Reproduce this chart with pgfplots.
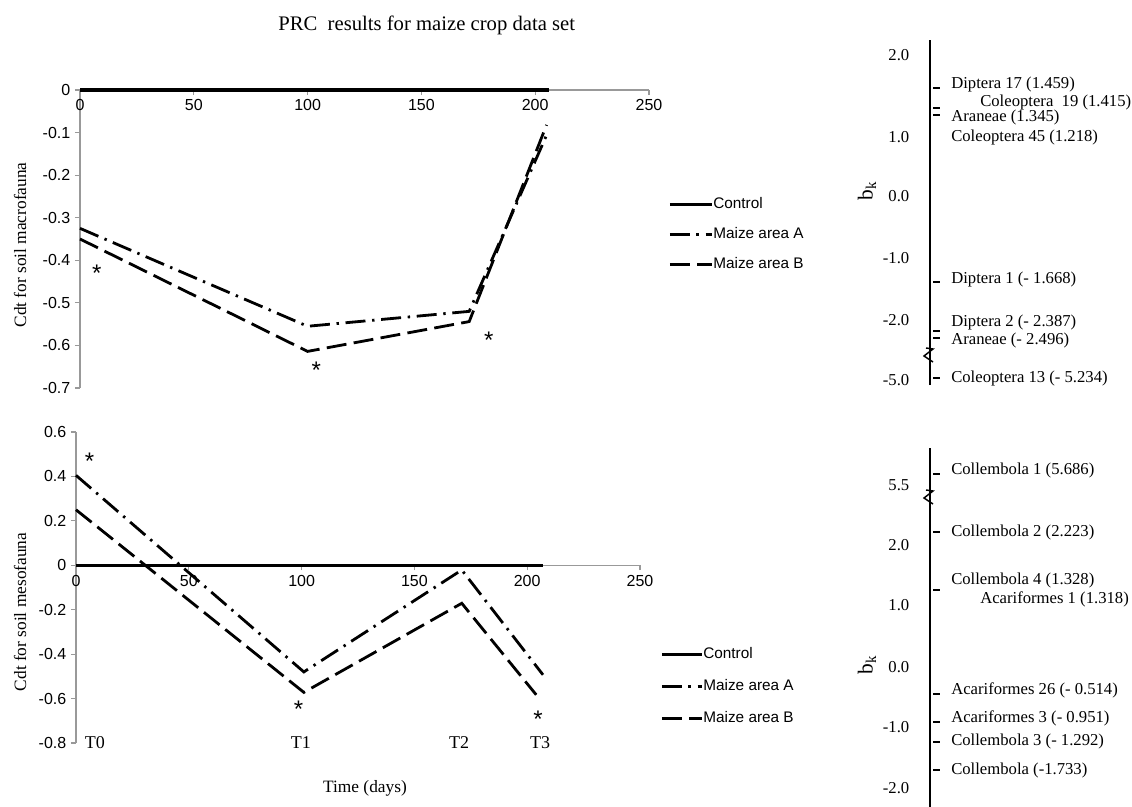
\documentclass[border=0pt]{standalone}
\usepackage{pgfplots}
\pgfplotsset{compat=1.18}
\usepackage{fontspec}
\setmainfont{Liberation Serif}
\setsansfont{Liberation Sans}

\pgfplotsset{
 leftpanel/.style={
   scale only axis, clip=false,
   xmin=0, xmax=250, xtick={0,50,...,250},
   axis x line=middle, axis y line=left,
   axis line style={-, draw=black!40, line width=0.8pt},
   every tick/.style={draw=black!40, line width=0.8pt},
   major tick length=3.75pt, tick align=outside,
   hide obscured x ticks=false, hide obscured y ticks=false,
   tick label style={font=\sffamily\fontsize{12}{12}\selectfont, text=black},
   /pgf/number format/assume math mode=true,
   yticklabel style={/pgf/number format/fixed, /pgf/number format/precision=1},
   legend cell align=left,
   legend image code/.code={\draw[##1] (0pt,0pt) -- (31.5pt,0pt);},
 },
 rightpanel/.style={
   scale only axis, clip=false,
   xmin=0, xmax=202, width=151.5pt,
   axis x line=none, axis y line=left,
   axis line style={-, black, line width=1.1pt},
   major tick length=0pt,
   yticklabel style={font=\fontsize{12.5}{12.5}\selectfont, xshift=-12pt},
   nodes near coords style={anchor=west, inner sep=0pt, font=\fontsize{12.5}{12.5}\selectfont, text=black},
 },
 ctrl/.style={black, line width=2.3pt},
 areaA/.style={black, line width=2.1pt, dash pattern=on 15pt off 5pt on 1.8pt off 5pt},
 areaB/.style={black, line width=2.1pt, dash pattern=on 15pt off 5.5pt},
 bkmark/.style={only marks, mark=-, mark size=2.6pt, mark options={line width=2.2pt, black}},
 bktext/.style={only marks, mark=none, nodes near coords, point meta=explicit symbolic},
}

\begin{document}
\begin{tikzpicture}
\path[use as bounding box] (0,0) rectangle (849pt,-605.25pt);

% Title
\node at (320pt,-18.75pt) {\fontsize{15.5}{15.5}\selectfont PRC\ \ results for maize crop data set};

% ---------- Top left: macrofauna ----------
\begin{axis}[leftpanel,
  at={(60pt,-67.5pt)}, anchor=north west,
  width=426.75pt, height=223.5pt,
  ymin=-0.7, ymax=0, ytick={-0.7,-0.6,...,0},
  legend style={draw=none, fill=none, inner sep=0pt,
    at={(1.0334,0.641)}, anchor=north west,
    font=\sffamily\fontsize{11.5}{11.5}\selectfont,
    nodes={inner sep=0pt, text height=8.5pt, text depth=2.5pt},
    row sep=11.5pt,
    /tikz/every even column/.append style={column sep=3pt}},
]
\addplot[ctrl] coordinates {(0,0) (206,0)};
\addplot[areaA] coordinates {(0,-0.325) (100,-0.555) (171,-0.520) (205,-0.106)};
\addplot[areaB] coordinates {(0,-0.350) (100,-0.614) (171,-0.544) (205,-0.082)};
\legend{Control, Maize area A, Maize area B}
\node[font=\sffamily\fontsize{18}{18}\selectfont, yshift=-3pt] at (axis cs:7.4,-0.42) {*};
\node[font=\sffamily\fontsize{18}{18}\selectfont, yshift=-3pt] at (axis cs:103.8,-0.649) {*};
\node[font=\sffamily\fontsize{18}{18}\selectfont, yshift=-3pt] at (axis cs:179.6,-0.579) {*};
\end{axis}

% ---------- Bottom left: mesofauna ----------
\begin{axis}[leftpanel,
  at={(57pt,-324pt)}, anchor=north west,
  width=423pt, height=233.25pt,
  ymin=-0.8, ymax=0.6, ytick={-0.8,-0.6,...,0.6},
  legend style={draw=none, fill=none, inner sep=0pt,
    at={(1.0355,0.309)}, anchor=north west,
    font=\sffamily\fontsize{11.5}{11.5}\selectfont,
    nodes={inner sep=0pt, text height=8.5pt, text depth=2.5pt},
    row sep=13pt,
    /tikz/every even column/.append style={column sep=2.5pt}},
  legend image code/.code={\draw[#1] (0pt,0pt) -- (30pt,0pt);},
]
\addplot[ctrl] coordinates {(0,0) (207,0)};
\addplot[areaA] coordinates {(0,0.405) (101,-0.480) (171,-0.021) (207,-0.493)};
\addplot[areaB] coordinates {(0,0.250) (101,-0.572) (171,-0.171) (204,-0.583)};
\legend{Control, Maize area A, Maize area B}
\node[font=\sffamily\fontsize{18}{18}\selectfont, yshift=-3pt] at (axis cs:6.0,0.488) {*};
\node[font=\sffamily\fontsize{18}{18}\selectfont, yshift=-3pt] at (axis cs:98.7,-0.628) {*};
\node[font=\sffamily\fontsize{18}{18}\selectfont, yshift=-3pt] at (axis cs:204.8,-0.673) {*};
\node[font=\fontsize{13.5}{13.5}\selectfont] at (axis cs:8.4,-0.8) {T0};
\node[font=\fontsize{13.5}{13.5}\selectfont] at (axis cs:99.7,-0.8) {T1};
\node[font=\fontsize{13.5}{13.5}\selectfont] at (axis cs:169.8,-0.8) {T2};
\node[font=\fontsize{13.5}{13.5}\selectfont] at (axis cs:205.7,-0.8) {T3};
\end{axis}

% axis titles
\node[rotate=90, font=\fontsize{13}{13}\selectfont] at (15pt,-183.75pt) {Cdt for soil macrofauna};
\node[rotate=90, font=\fontsize{13}{13}\selectfont] at (15pt,-459pt) {Cdt for soil mesofauna};
\node[font=\fontsize{13}{13}\selectfont] at (273.75pt,-591pt) {Time (days)};

% ---------- Top right: b_k macrofauna ----------
\begin{axis}[rightpanel,
  at={(697.5pt,-30pt)}, anchor=north west,
  height=258.75pt, ymin=-385, ymax=-40,
  ytick={-55,-137,-196,-258,-320,-380},
  yticklabels={2.0,1.0,0.0,-1.0,-2.0,-5.0},
]
\addplot[bkmark] coordinates {(6.5,-88) (6.5,-108) (6.5,-115) (6.5,-282) (6.5,-331) (6.5,-338) (6.5,-378)};
\addplot[bktext] table[x=x, y=y, meta=label, col sep=comma, row sep=\\] {
x,y,label\\
21,-84,Diptera 17 (1.459)\\
50,-102,Coleoptera\ \ 19 (1.415)\\
21,-117,Araneae (1.345)\\
21,-137,Coleoptera 45 (1.218)\\
21,-279,Diptera 1 (- 1.668)\\
21,-322,Diptera 2 (- 2.387)\\
21,-340,Araneae (- 2.496)\\
21,-378,Coleoptera 13 (- 5.234)\\
};
\addplot[black, line width=1.1pt] coordinates {(-4,-348) (3,-349) (-6,-356) (3,-362)};
\end{axis}
\node[rotate=90, font=\fontsize{16}{16}\selectfont] at (650.25pt,-143.25pt) {b\textsubscript{k}};

% ---------- Bottom right: b_k mesofauna ----------
\begin{axis}[rightpanel,
  at={(697.5pt,-336pt)}, anchor=north west,
  height=269.25pt, ymin=-807, ymax=-448,
  ytick={-485,-545,-605,-667,-727,-788},
  yticklabels={5.5,2.0,1.0,0.0,-1.0,-2.0},
]
\addplot[bkmark] coordinates {(6.5,-474) (6.5,-532) (6.5,-590) (6.5,-694) (6.5,-722) (6.5,-742) (6.5,-770)};
\addplot[bktext] table[x=x, y=y, meta=label, col sep=comma, row sep=\\] {
x,y,label\\
21,-470,Collembola 1 (5.686)\\
21,-532,Collembola 2 (2.223)\\
21,-580,Collembola 4 (1.328)\\
50,-599,Acariformes 1 (1.318)\\
21,-690,Acariformes 26 (- 0.514)\\
21,-718,Acariformes 3 (- 0.951)\\
21,-741,Collembola 3 (- 1.292)\\
21,-770,Collembola (-1.733)\\
};
\addplot[black, line width=1.1pt] coordinates {(-4,-490) (3,-491) (-6,-498) (3,-504)};
\end{axis}
\node[rotate=90, font=\fontsize{16}{16}\selectfont] at (650.25pt,-498.75pt) {b\textsubscript{k}};

\end{tikzpicture}
\end{document}
